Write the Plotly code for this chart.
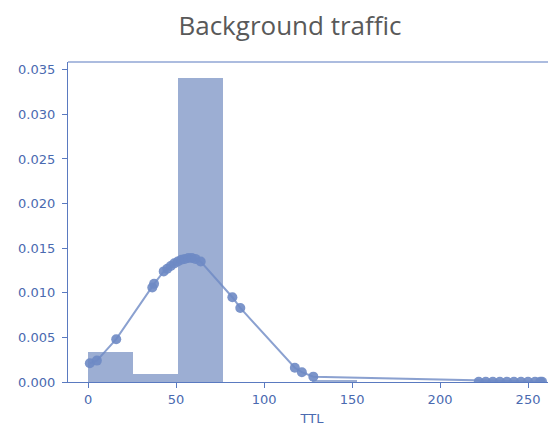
import plotly.graph_objects as go

# Histogram (density) bins
bin_left = [0, 25.5, 51, 76.5, 102, 127.5, 153, 178.5, 204, 229.5]
bin_width = 25.5
bin_height = [0.0034, 0.0009, 0.0341, 0.0, 0.0, 0.0002, 0.0, 0.0, 0.0, 0.00005]

# Density curve points
ttl = [1, 5, 16, 36.5, 37.5, 43, 45, 47, 49, 51, 53, 55, 57, 59, 61, 64,
       82, 86.5, 117.5, 121.5, 128, 258, 222, 226, 230, 234, 238, 242, 246, 250, 254, 257]
dens = [0.0021, 0.0024, 0.0048, 0.0106, 0.0110, 0.0124, 0.0127, 0.0130, 0.0133, 0.0135,
        0.0137, 0.0138, 0.0139, 0.0139, 0.0138, 0.0135,
        0.0095, 0.0083, 0.0016, 0.0011, 0.0006, 0.00002, 0.00003, 0.00003, 0.00003,
        0.00003, 0.00003, 0.00003, 0.00003, 0.00003, 0.00003, 0.00003]

x_ticks = [0, 50, 100, 150, 200, 250]
y_ticks = [0.000, 0.005, 0.010, 0.015, 0.020, 0.025, 0.030, 0.035]

axis_col = "#5a7ac0"
tick_col = "#4a6ab0"

fig = go.Figure()
fig.add_trace(go.Bar(
    x=bin_left, y=bin_height, width=[bin_width] * len(bin_left), offset=0,
    marker=dict(color="rgba(118,143,194,0.72)", line=dict(width=0)),
    showlegend=False,
))
fig.add_trace(go.Scatter(
    x=ttl, y=dens, mode="lines+markers",
    line=dict(color="rgba(110,138,196,0.8)", width=2),
    marker=dict(color="rgba(110,138,196,0.9)", size=10),
    showlegend=False, cliponaxis=True,
))

fig.update_layout(
    width=548, height=419,
    paper_bgcolor="white", plot_bgcolor="white",
    margin=dict(l=60, r=0, t=54, b=45, autoexpand=False),
    bargap=0,
    title=dict(text="Background traffic", x=0.5146, xanchor="center", y=0.958, yanchor="middle",
               font=dict(family="Open Sans, Noto Sans", size=26, color="#595959")),
    font=dict(family="DejaVu Sans", size=13, color=tick_col),
)
fig.update_xaxes(
    range=[-11.4, 265.9], tickvals=x_ticks, ticktext=[str(v) for v in x_ticks],
    showgrid=False, zeroline=False, showline=True, linecolor=axis_col, linewidth=1.2,
    ticks="outside", ticklen=5, tickcolor=axis_col, mirror=False,
    title=dict(text="TTL", font=dict(size=13, color=tick_col), standoff=8),
    tickfont=dict(size=13, color=tick_col),
)
fig.update_yaxes(
    range=[0, 0.03587], tickvals=y_ticks, ticktext=["%.3f" % v for v in y_ticks],
    showgrid=False, zeroline=False, showline=True, linecolor=axis_col, linewidth=1.2,
    ticks="outside", ticklen=5, tickcolor=axis_col, ticklabelstandoff=4,
    tickfont=dict(size=13, color=tick_col),
)
# top spine
fig.add_shape(type="line", xref="paper", yref="paper", x0=0, x1=1, y0=1, y1=1,
              line=dict(color=axis_col, width=1.2))

fig.write_html("out.html")
